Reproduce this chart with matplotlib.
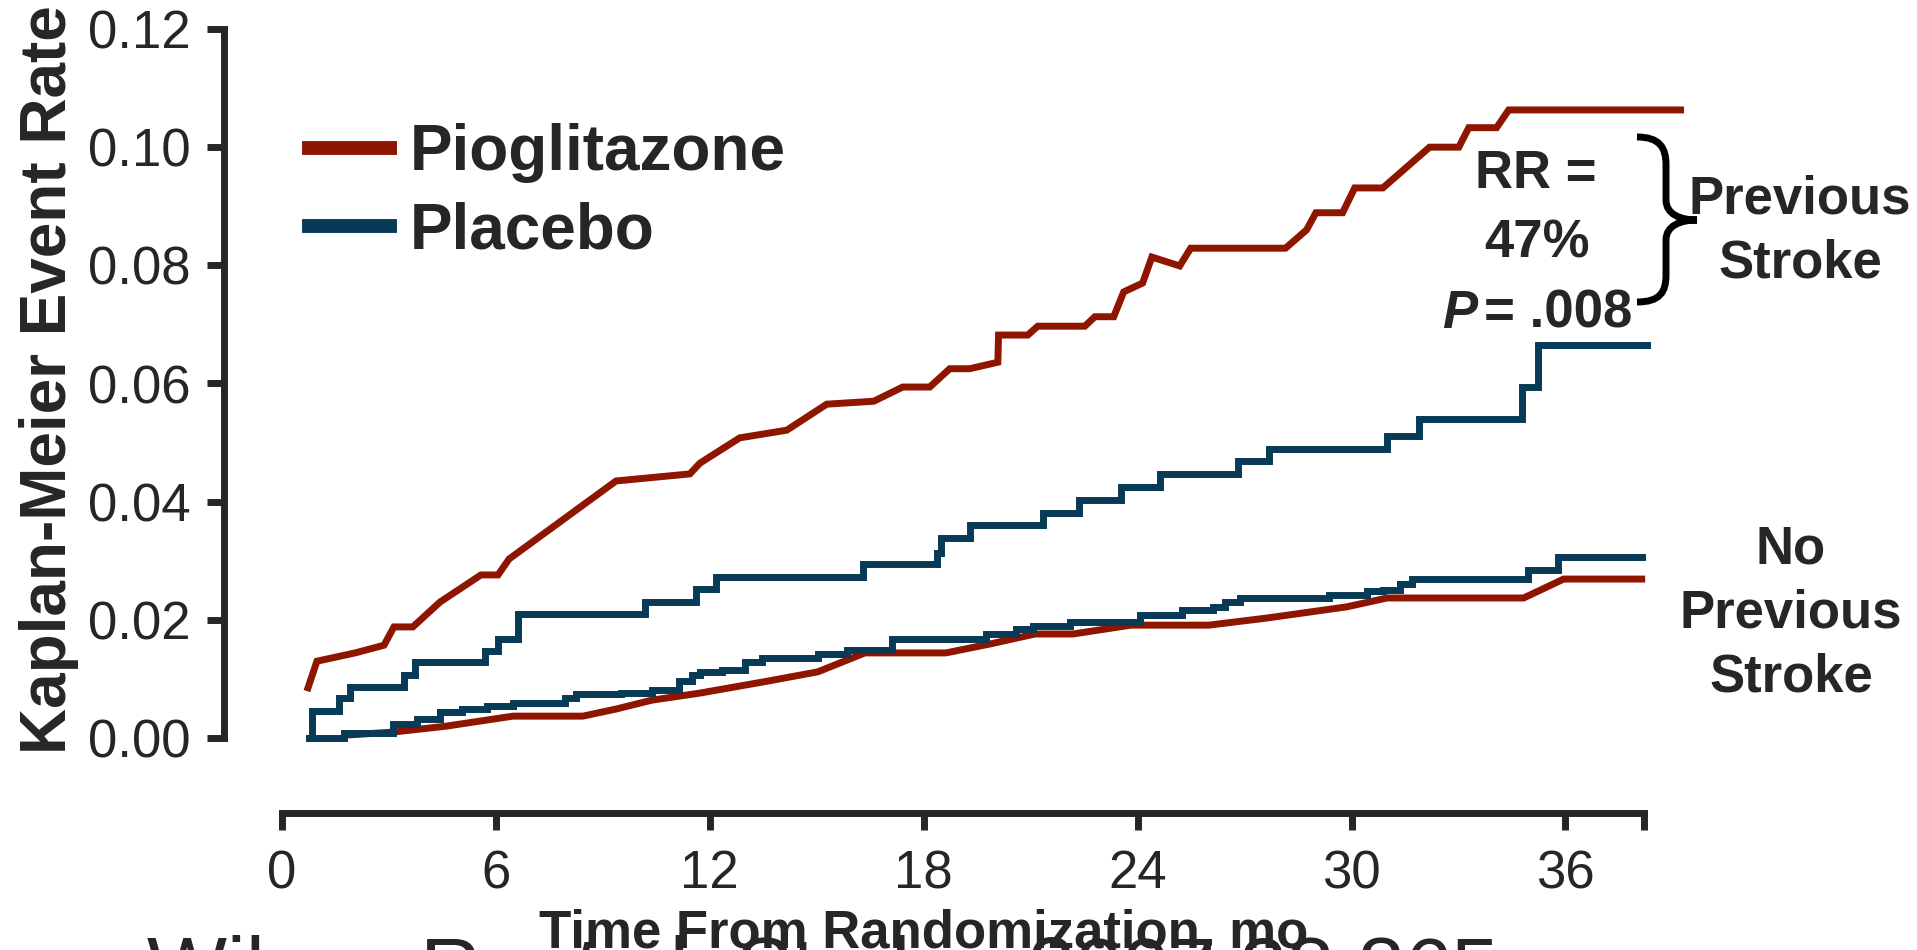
import matplotlib
matplotlib.use('Agg')
import matplotlib.pyplot as plt
from matplotlib.path import Path
from matplotlib.patches import PathPatch
from matplotlib.transforms import Affine2D

W, H = 1917, 950
RED = '#8e1600'
BLUE = '#073a56'
INK = '#262626'

# Kaplan-Meier curves, months vs event rate
pio_prev_t = [0.73, 0.98, 2.05, 2.86, 3.14, 3.67, 4.43, 5.58, 6.06, 6.37,
              7.37, 9.37, 11.44, 11.72, 12.03, 12.84, 14.16, 15.28, 16.60, 17.41,
              18.17, 18.73, 19.29, 20.08, 20.10, 20.92, 21.20, 22.52, 22.80, 23.33,
              23.61, 24.14, 24.40, 25.18, 25.49, 28.15, 28.74, 29.00, 29.75, 30.09,
              30.88, 32.19, 33.01, 33.29, 34.07, 34.41, 39.23]
pio_prev_r = [0.0085, 0.0130, 0.0144, 0.0157, 0.0188, 0.0188, 0.0230, 0.0276, 0.0276, 0.0303,
              0.0347, 0.0435, 0.0447, 0.0465, 0.0477, 0.0508, 0.0521, 0.0565, 0.0570, 0.0594,
              0.0594, 0.0625, 0.0625, 0.0636, 0.0682, 0.0682, 0.0697, 0.0697, 0.0713, 0.0713,
              0.0755, 0.0770, 0.0814, 0.0799, 0.0829, 0.0829, 0.0860, 0.0889, 0.0889, 0.0931,
              0.0931, 0.1000, 0.1000, 0.1033, 0.1033, 0.1063, 0.1063]

pla_prev_t = [0.80, 0.85, 1.61, 1.92, 3.43, 3.74, 5.70, 6.05, 6.61, 10.18,
              11.62, 12.16, 16.30, 18.37, 18.49, 19.30, 21.34, 22.35, 23.53, 24.62,
              26.81, 27.68, 31.00, 31.90, 34.77, 35.22, 38.30]
pla_prev_r = [0.0, 0.0046, 0.0068, 0.0086, 0.0106, 0.0129, 0.0148, 0.0168, 0.0210, 0.0231,
              0.0252, 0.0272, 0.0294, 0.0313, 0.0338, 0.0360, 0.0381, 0.0403, 0.0425, 0.0447,
              0.0469, 0.0489, 0.0511, 0.0540, 0.0594, 0.0665, 0.0665]

pio_none_t = [1.83, 3.11, 4.60, 6.48, 8.44, 9.37, 10.37, 11.72, 13.60, 15.03,
              16.35, 18.62, 19.85, 21.12, 22.18, 23.81, 26.00, 27.62, 29.87, 31.00,
              34.83, 35.95, 38.14]
pio_none_r = [0.0005, 0.0010, 0.0020, 0.0037, 0.0037, 0.0049, 0.0064, 0.0076, 0.0096, 0.0112,
              0.0144, 0.0144, 0.0159, 0.0176, 0.0176, 0.0191, 0.0191, 0.0203, 0.0222, 0.0237,
              0.0237, 0.0269, 0.0269]

pla_none_t = [0.75, 1.73, 3.11, 3.79, 4.42, 5.05, 5.74, 6.48, 7.93, 8.24,
              9.50, 10.37, 11.13, 11.50, 11.72, 12.34, 12.98, 13.46, 15.03, 15.84,
              17.10, 19.74, 20.60, 21.06, 22.10, 24.06, 25.24, 26.11, 26.44, 26.86,
              29.36, 30.43, 30.88, 31.35, 31.69, 34.94, 35.78, 38.14]
pla_none_r = [0.0, 0.0008, 0.0023, 0.0032, 0.0044, 0.0049, 0.0055, 0.0060, 0.0067, 0.0074,
              0.0076, 0.0082, 0.0097, 0.0106, 0.0111, 0.0115, 0.0128, 0.0135, 0.0143, 0.0149,
              0.0168, 0.0176, 0.0185, 0.0190, 0.0196, 0.0208, 0.0216, 0.0222, 0.0230, 0.0237,
              0.0242, 0.0249, 0.0251, 0.0261, 0.0269, 0.0284, 0.0306, 0.0306]

x_ticks = [0, 6, 12, 18, 24, 30, 36]
y_ticks = [0.00, 0.02, 0.04, 0.06, 0.08, 0.10, 0.12]
x_end = 38.2

plt.rcParams['font.family'] = ['Liberation Sans', 'DejaVu Sans']
plt.rcParams['text.color'] = INK

fig = plt.figure(figsize=(W / 100, H / 100), dpi=100)
fig.patch.set_facecolor('white')
ax = fig.add_axes([282 / W, 212 / H, 1426 / W, 709 / H])
ax.set_facecolor('none')
ax.set_xlim(0, 40)
ax.set_ylim(0, 0.12)

lw = 5
ax.plot(pio_prev_t, pio_prev_r, color=RED, lw=lw, solid_joinstyle='miter', clip_on=False,
        label='Pioglitazone')
ax.plot(pla_prev_t, pla_prev_r, color=BLUE, lw=lw, drawstyle='steps-post',
        solid_joinstyle='miter', clip_on=False, label='Placebo')
ax.plot(pio_none_t, pio_none_r, color=RED, lw=lw, solid_joinstyle='miter', clip_on=False)
ax.plot(pla_none_t, pla_none_r, color=BLUE, lw=lw, drawstyle='steps-post',
        solid_joinstyle='miter', clip_on=False)

# axes: detached spines with outward ticks
for side in ('top', 'right'):
    ax.spines[side].set_visible(False)
ax.spines['left'].set_position(('outward', 42))
ax.spines['bottom'].set_position(('outward', 54))
ax.spines['left'].set_bounds(0, 0.12)
ax.spines['bottom'].set_bounds(0, x_end)
for side in ('left', 'bottom'):
    ax.spines[side].set_linewidth(5)
    ax.spines[side].set_color(INK)

ax.set_xticks(x_ticks + [x_end])
ax.set_xticklabels([str(v) for v in x_ticks] + [''])
ax.set_yticks(y_ticks)
ax.set_yticklabels([f'{v:.2f}' for v in y_ticks])
ax.tick_params(axis='both', direction='out', length=12, width=5, color=INK,
               labelsize=38, labelcolor=INK)
ax.tick_params(axis='y', pad=12)
ax.tick_params(axis='x', pad=14)

leg = ax.legend(loc='upper left', bbox_to_anchor=(309 / W, 1 - 123 / H),
                bbox_transform=fig.transFigure, frameon=False, borderpad=0,
                borderaxespad=0, handlelength=1.27, handletextpad=0.3,
                labelspacing=0.29, prop={'weight': 'bold', 'size': 46})
for line in leg.get_lines():
    line.set_linewidth(10)
for txt in leg.get_texts():
    txt.set_color(INK)

# citation runs off the bottom edge, x label sits over it
fig.text(147 / W, 1 - 997 / H, 'Wilcox R, et al. Stroke. 2007;38:865', fontsize=61,
         color=INK, va='baseline', ha='left', zorder=1)
fig.text(924 / W, 1 - 947 / H, 'Time From Randomization, mo', fontsize=38,
         fontweight='bold', color=INK, ha='center', va='baseline', zorder=5)
fig.text(66 / W, 1 - 380 / H, 'Kaplan-Meier Event Rate', fontsize=46, fontweight='bold',
         color=INK, rotation=90, rotation_mode='anchor', ha='center', va='baseline')


def px_text(x, y, s, **kw):
    kw.setdefault('fontsize', 38)
    kw.setdefault('fontweight', 'bold')
    kw.setdefault('ha', 'center')
    kw.setdefault('va', 'baseline')
    fig.text(x / W, 1 - y / H, s, color=INK, **kw)


px_text(1536, 188, 'RR =')
px_text(1537, 258, '47%')
px_text(1442, 328, 'P', ha='left', fontstyle='italic')
px_text(1484, 328, '= .008', ha='left')
px_text(1800, 213, 'Previous')
px_text(1800, 277, 'Stroke')
px_text(1791, 563, 'No')
px_text(1791, 627, 'Previous')
px_text(1791, 691, 'Stroke')

# curly brace grouping the previous-stroke curves
verts = [(1637, 137), (1660, 137), (1666, 148), (1666, 165),
         (1666, 200),
         (1666, 214), (1680, 220), (1697, 220),
         (1680, 220), (1666, 226), (1666, 240),
         (1666, 275),
         (1666, 292), (1660, 302), (1637, 302)]
codes = [Path.MOVETO, Path.CURVE4, Path.CURVE4, Path.CURVE4,
         Path.LINETO,
         Path.CURVE4, Path.CURVE4, Path.CURVE4,
         Path.CURVE4, Path.CURVE4, Path.CURVE4,
         Path.LINETO,
         Path.CURVE4, Path.CURVE4, Path.CURVE4]
px = Affine2D().scale(1 / W, -1 / H).translate(0, 1) + fig.transFigure
fig.patches.append(PathPatch(Path(verts, codes), facecolor='none', edgecolor='black',
                             lw=5, transform=px, capstyle='butt'))

fig.savefig('out.png', dpi=100, facecolor='white')
